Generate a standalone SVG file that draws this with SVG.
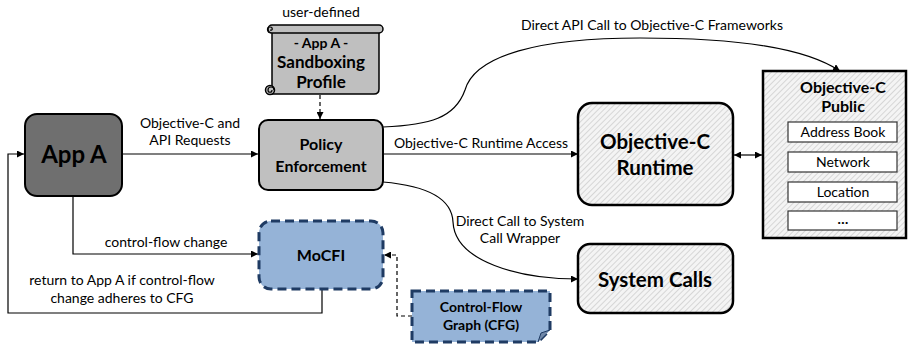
<svg xmlns="http://www.w3.org/2000/svg" width="910" height="346" viewBox="0 0 910 346">
<defs>
<pattern id="hatch" patternUnits="userSpaceOnUse" width="4" height="4" patternTransform="rotate(45)">
<rect width="4" height="4" fill="#f4f4f4"/>
<line x1="0" y1="0" x2="0" y2="4" stroke="#b8b8b8" stroke-width="1"/>
</pattern>
<marker id="ah" viewBox="0 0 10 10" refX="10" refY="5" markerWidth="7" markerHeight="7" orient="auto-start-reverse" markerUnits="userSpaceOnUse">
<path d="M0,0 L10,5 L0,10 Z" fill="#000"/>
</marker>
<style>
text{font-family:Lato,"Liberation Sans",sans-serif;fill:#000;text-anchor:middle}
.lbl{font-size:14px}
.b{font-weight:bold}
.conn{fill:none;stroke:#000;stroke-width:1.2}
.dash{stroke-dasharray:4,3}
.blue{fill:#95b3d7;stroke:#1f3b63;stroke-width:3;stroke-dasharray:9,5}
.hb{fill:url(#hatch);stroke:#000;stroke-width:2.5}
.item{fill:#fff;stroke:#333;stroke-width:1.2}
</style>
</defs>
<g id="connectors">
<path class="conn" d="M122,154 H258" marker-end="url(#ah)"/>
<path class="conn" d="M383,154 H578" marker-end="url(#ah)"/>
<path class="conn" d="M734,155 H762" marker-start="url(#ah)" marker-end="url(#ah)"/>
<path class="conn" d="M383,127 C430,125 455,118 465,90 C475,55 540,38 640,38 C740,38 805,48 840,71" marker-end="url(#ah)"/>
<path class="conn" d="M383,182 C430,186 452,200 453,222 C455,262 520,279 578,279" marker-end="url(#ah)"/>
<path class="conn dash" d="M320,95 V119" marker-end="url(#ah)"/>
<path class="conn" d="M73,196 V254 H258" marker-end="url(#ah)"/>
<path class="conn" d="M322,290 V313 H8 V154 H24" marker-end="url(#ah)"/>
<path class="conn dash" d="M412,316 H397 V255 H384" marker-end="url(#ah)"/>
<text class="lbl" x="321" y="17">user-defined</text>
<text class="lbl" x="190" y="128">Objective-C and</text>
<text class="lbl" x="190" y="145">API Requests</text>
<text class="lbl" x="481" y="148">Objective-C Runtime Access</text>
<text class="lbl" x="652" y="30">Direct API Call to Objective-C Frameworks</text>
<text class="lbl" x="520" y="226">Direct Call to System</text>
<text class="lbl" x="520" y="243">Call Wrapper</text>
<text class="lbl" x="166" y="247">control-flow change</text>
<text class="lbl" x="122" y="285">return to App A if control-flow</text>
<text class="lbl" x="122" y="303">change adheres to CFG</text>
</g>
<g id="appA">
<rect x="25" y="114" width="97" height="82" rx="12" fill="#6f6f6f" stroke="#000" stroke-width="2"/>
<text class="b" x="74" y="163" font-size="24">App A</text>
</g>
<g id="profile">
<path d="M272,31 H379 V89 Q379,94 374,94 H272 Z" fill="#bfbfbf" stroke="#000" stroke-width="1.5"/>
<rect x="268" y="25" width="115" height="8" rx="4" fill="#bfbfbf" stroke="#000" stroke-width="1.5"/>
<path d="M271,33 C267,33 266,27 270,27 C273,27 273,31 270,30" fill="none" stroke="#000" stroke-width="1.2"/>
<circle cx="270" cy="90" r="4.5" fill="#bfbfbf" stroke="#000" stroke-width="1.5"/>
<path d="M274,90 C274,86 268,86 268,90 C268,93 272,93 272,90" fill="none" stroke="#000" stroke-width="1.2"/>
<text class="b" x="321" y="48" font-size="14">- App A -</text>
<text class="b" x="321" y="68" font-size="17">Sandboxing</text>
<text class="b" x="321" y="88" font-size="17">Profile</text>
</g>
<g id="policy">
<rect x="259" y="120" width="124" height="70" rx="9" fill="#c0c0c0" stroke="#000" stroke-width="2"/>
<text class="b" x="321" y="150" font-size="16">Policy</text>
<text class="b" x="321" y="172" font-size="16">Enforcement</text>
</g>
<g id="runtime">
<rect x="578" y="103" width="155" height="102" rx="14" class="hb"/>
<text class="b" x="655" y="149" font-size="20.5">Objective-C</text>
<text class="b" x="655" y="175" font-size="20.5">Runtime</text>
</g>
<g id="syscalls">
<rect x="578" y="244" width="155" height="69" rx="12" class="hb"/>
<text class="b" x="655" y="287" font-size="20.5">System Calls</text>
</g>
<g id="public">
<rect x="763" y="71" width="143" height="167" class="hb" stroke-width="3"/>
<text class="b" x="843" y="93" font-size="16">Objective-C</text>
<text class="b" x="843" y="112" font-size="16">Public</text>
<rect x="788" y="122" width="109" height="20" class="item"/>
<text x="843" y="137" font-size="14">Address Book</text>
<rect x="788" y="152" width="109" height="20" class="item"/>
<text x="843" y="167" font-size="14">Network</text>
<rect x="788" y="182" width="109" height="20" class="item"/>
<text x="843" y="197" font-size="14">Location</text>
<rect x="788" y="211" width="109" height="19" class="item"/>
<text class="b" x="843" y="224" font-size="14">…</text>
</g>
<g id="mocfi">
<rect x="259" y="221" width="124" height="68" rx="12" class="blue"/>
<text class="b" x="321" y="261" font-size="16">MoCFI</text>
</g>
<g id="cfg">
<path d="M412,291 H550 V330 L538,342 H412 Z" class="blue"/>
<path d="M538,342 L541,333 L550,330" fill="#6f87a8" stroke="#1f3b63" stroke-width="1"/>
<text class="b" x="481" y="312" font-size="14">Control-Flow</text>
<text class="b" x="481" y="330" font-size="14">Graph (CFG)</text>
</g>
</svg>
